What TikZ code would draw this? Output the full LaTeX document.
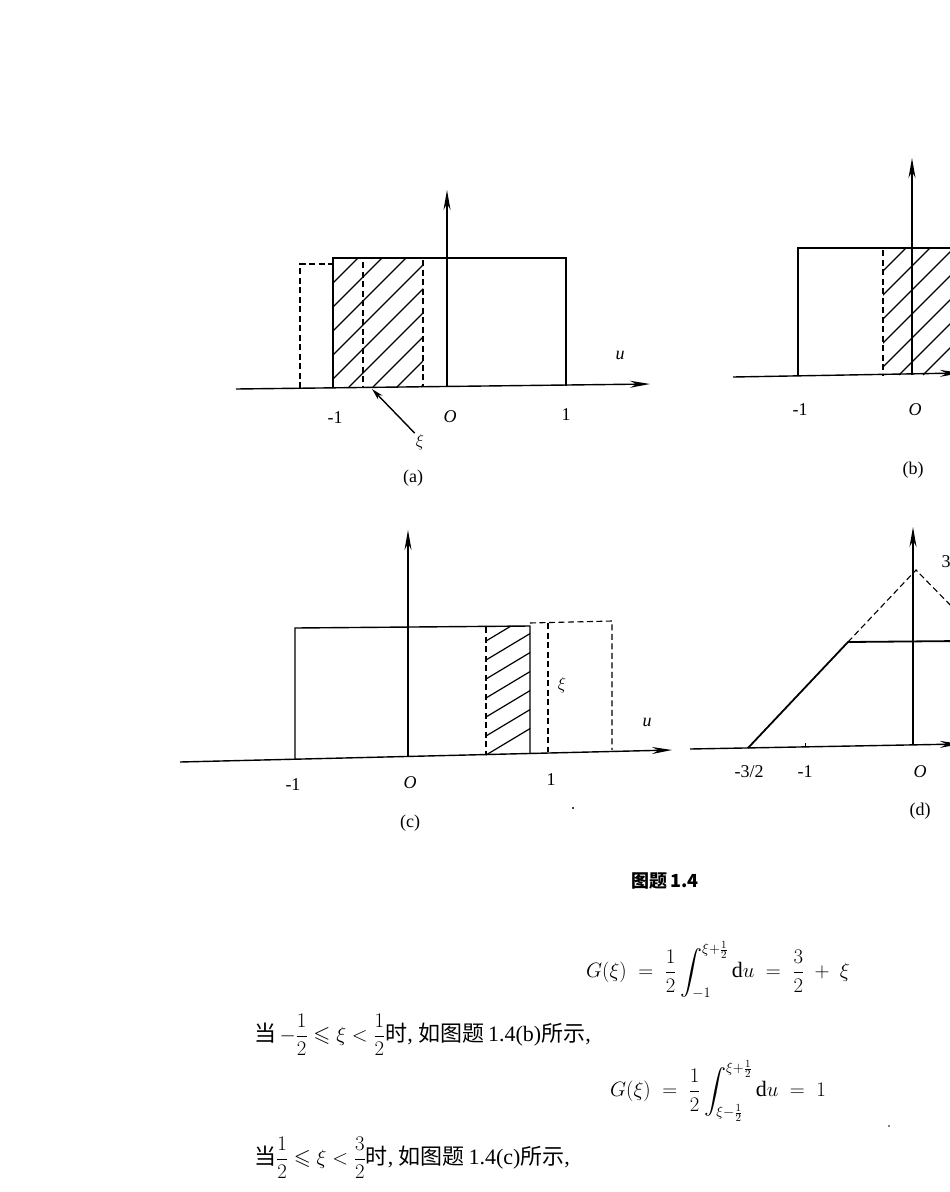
\documentclass[tikz,border=0pt]{standalone}
\usepackage{amsmath,amssymb}
\usepackage{fontspec}
\setmainfont{Liberation Serif}
\newfontfamily\cjk{Noto Sans CJK SC}
\usetikzlibrary{arrows.meta}
\begin{document}
\begin{tikzpicture}[x=1pt,y=-1pt,
  ln/.style={line width=1.4pt},
  dsh/.style={line width=1.1pt,dashed,dash pattern=on 6pt off 3.5pt},
  ax/.style={line width=1.4pt,-{Stealth[length=20pt,width=7pt]}},
  hat/.style={line width=1.2pt},
  lab/.style={font=\fontsize{18}{21}\selectfont,inner sep=1pt},
  ilab/.style={font=\itshape\fontsize{18}{21}\selectfont,inner sep=1pt},
  eq/.style={font=\fontsize{22}{26}\selectfont,inner sep=1pt}]
\useasboundingbox (0,0) rectangle (950,1192);
\clip (0,0) rectangle (950,1192);
% ---------- (a)
\coordinate (a0) at (236,389); \coordinate (a1) at (650,384);
\coordinate (ao) at (447,387); \coordinate (at) at (447,190);
\draw[ax] (a0) -- (a1);
\draw[ax] (ao) -- (at);
\begin{scope}\clip (333,258) rectangle (423,387);
\foreach \k in {0,24,...,400}{\draw[hat] (133+\k,387) -- ++(200,-200);}
\end{scope}
\draw[ln] (333,388) -- (333,258) -- (566,258) -- (566,386);
\draw[dsh] (300,388) -- (300,264) -- (333,264);
\draw[dsh] (363,262) -- (363,388);
\draw[dsh] (423,260) -- (423,387);
\node[lab] (am1) at (335,418) {-1};
\node[ilab] (aO) at (450,417) {O};
\node[lab] (a1l) at (566,415) {1};
\node[ilab] (au) at (620,355) {u};
\node[lab] (axi) at (420,442) {$\xi$};
\coordinate (axp) at (372,389);
\draw[line width=1.4pt,-{Stealth[length=12pt,width=6pt]}] (axi.north west) -- (axp);
\node[lab] (acap) at (413,478) {(a)};
% ---------- (b)
\coordinate (b0) at (733,377); \coordinate (b1) at (960,373);
\coordinate (bo) at (912,375); \coordinate (bt) at (912,158);
\draw[ax] (b0) -- (b1);
\draw[ax] (bo) -- (bt);
\begin{scope}\clip (883,248) rectangle (960,375);
\foreach \k in {0,24,...,400}{\draw[hat] (683+\k,375) -- ++(200,-200);}
\end{scope}
\draw[ln] (798,376) -- (798,248) -- (960,248);
\draw[dsh] (883,250) -- (883,376);
\node[lab] (bm1) at (800,410) {-1};
\node[ilab] (bO) at (915,410) {O};
\node[lab] (bcap) at (913,470) {(b)};
% ---------- (c)
\coordinate (c0) at (180,762); \coordinate (c1) at (672,750);
\coordinate (co) at (408,757); \coordinate (ct) at (408,530);
\draw[ax] (c0) -- (c1);
\draw[ax] (co) -- (ct);
\begin{scope}\clip (486,627) rectangle (530,755);
\foreach \k in {0,19,...,190}{\draw[hat] (436,785-\k) -- ++(200,-120);}
\end{scope}
\draw[ln] (295,759) -- (295,628) -- (530,626) -- (530,754);
\draw[dsh] (486,627) -- (486,755);
\draw[dsh] (530,623) -- (612,621) -- (612,750);
\draw[dsh] (548,623) -- (548,752);
\node[lab] (cxi) at (562,685) {$\xi$};
\node[ilab] (cu) at (647,722) {u};
\node[lab] (cm1) at (293,785) {-1};
\node[ilab] (cO) at (410,783) {O};
\node[lab] (c1l) at (551,780) {1};
\node[lab] (ccap) at (410,823) {(c)};
% ---------- (d)
\coordinate (d0) at (690,749); \coordinate (d1) at (960,744);
\coordinate (do) at (913,745); \coordinate (dt) at (913,527);
\coordinate (ds) at (748,748); \coordinate (dk) at (848,642);
\coordinate (dp) at (916,570); \coordinate (de) at (960,615);
\draw[ax] (d0) -- (d1);
\draw[ax] (do) -- (dt);
\draw[line width=1.8pt] (ds) -- (dk) -- (960,641);
\draw[dsh] (dk) -- (dp) -- (de);
\draw[line width=0.8pt] (805,747) -- (805,743);
\node[lab] (d3) at (946,562) {3};
\node[lab] (dm32) at (749,772) {-3/2};
\node[lab] (dm1) at (805,772) {-1};
\node[ilab] (dO) at (920,772) {O};
\node[lab] (dcap) at (920,811) {(d)};
% ---------- text
\node[font=\cjk\bfseries\fontsize{18}{21}\selectfont,inner sep=1pt] (cap) at (665,881) {图题\,1.4};
\node[eq] (eq1) at (718,970) {$G(\xi)\;=\;\dfrac12\displaystyle\int_{-1}^{\xi+\frac12}\mathrm{d}u\;=\;\dfrac32\;+\;\xi$};
\node[eq,anchor=west] (t1) at (253,1035) {{\cjk 当}$\,-\dfrac12\leqslant\xi<\dfrac12${\cjk 时}, {\cjk 如图题}\,1.4(b){\cjk 所示},};
\node[eq] (eq2) at (718,1091) {$G(\xi)\;=\;\dfrac12\displaystyle\int_{\xi-\frac12}^{\xi+\frac12}\mathrm{d}u\;=\;1$};
\node[eq,anchor=west] (t2) at (253,1158) {{\cjk 当}$\dfrac12\leqslant\xi<\dfrac32${\cjk 时}, {\cjk 如图题}\,1.4(c){\cjk 所示},};
\fill (573,808) circle (1.2pt);
\fill (889,1126) circle (0.9pt);
\end{tikzpicture}
\end{document}
